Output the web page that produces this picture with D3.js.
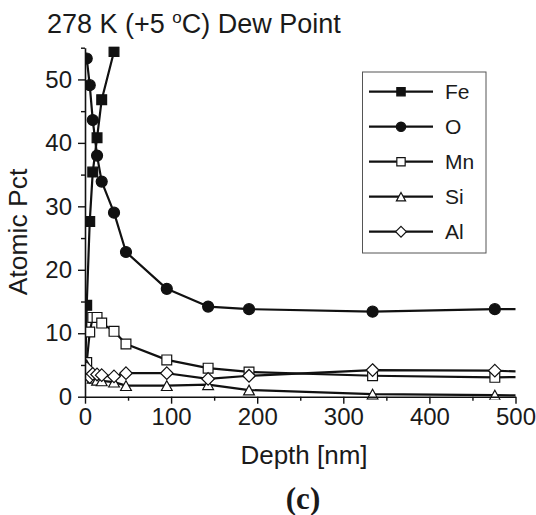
<!DOCTYPE html>
<html>
<head>
<meta charset="utf-8">
<script src="https://cdn.jsdelivr.net/npm/d3@7"></script>
<style>
  html, body { margin: 0; padding: 0; background: #fff; }
  svg { display: block; }
  text { font-family: "Liberation Sans", Arial, Helvetica, sans-serif; fill: #1a1a1a; }
  text.panel { font-family: "Liberation Serif", "Times New Roman", serif; font-weight: bold; }
</style>
</head>
<body>
<svg id="chart" width="536" height="515"></svg>
<script>
// Sputter depth (nm) for each measurement; the last one lies past the plotted range
const depths = [0.5, 2, 5.5, 9, 14, 19.4, 33.7, 47.6, 95, 143, 190.5, 334, 476, 620];

// Atomic percentage of each element at the depths above (null = not shown)
const feValues = [5.4, 14.4, 27.6, 35.4, 40.8, 46.8, 54.4, null, null, null, null, null, null, null];
const oValues  = [null, 53.3, 49.1, 43.6, 38.0, 33.9, 29.0, 22.8, 17.0, 14.2, 13.8, 13.4, 13.8, 13.8];
const mnValues = [null, 5.4, 10.2, 12.5, 12.5, 11.6, 10.3, 8.3, 5.8, 4.5, 3.9, 3.3, 3.05, 3.3];
const siValues = [null, 5.0, 3.6, 2.9, 2.6, 2.5, 2.3, 1.75, 1.75, 1.9, 1.05, 0.4, 0.25, 0];
const alValues = [null, 4.5, 3.1, 3.6, 3.5, 3.4, 3.2, 3.7, 3.7, 2.8, 3.3, 4.2, 4.1, 3.4];

const seriesNames = ["Fe", "O", "Mn", "Si", "Al"];
const seriesValues = [feValues, oValues, mnValues, siValues, alValues];
const markerShapes = ["square", "circle", "square", "triangle", "diamond"];
const markerFilled = [true, true, false, false, false];

const xTicks = [0, 100, 200, 300, 400, 500];
const xMinorTicks = [50, 150, 250, 350, 450];
const yTicks = [0, 10, 20, 30, 40, 50];
const yMinorTicks = [5, 15, 25, 35, 45, 55];

const titleMain = "278 K (+5 ";
const titleSup = "o";
const titleEnd = "C) Dew Point";
const xLabel = "Depth [nm]";
const yLabel = "Atomic Pct";
const panelLabel = "(c)";

const svg = d3.select("#chart");
const plot = { left: 85, right: 515.5, top: 47.7, bottom: 396.7 };

const x = d3.scaleLinear().domain([0, 500]).range([plot.left, plot.right]);
const y = d3.scaleLinear().domain([0, 55]).range([plot.bottom, plot.top]);

// Marker path generator, centred on the bounding box
function markerPath(shape, s) {
  const h = s / 2;
  if (shape === "square") return `M${-h},${-h}H${h}V${h}H${-h}Z`;
  if (shape === "circle") return `M${h},0A${h},${h} 0 1,1 ${-h},0A${h},${h} 0 1,1 ${h},0Z`;
  if (shape === "triangle") return `M0,${-h}L${h * 1.1},${h}L${-h * 1.1},${h}Z`;
  if (shape === "diamond") return `M0,${-h * 1.2}L${h * 1.2},0L0,${h * 1.2}L${-h * 1.2},0Z`;
}
const markerSize = { square: 9.8, circle: 11, triangle: 9.8, diamond: 10.5 };

// Clip region: the plotting frame, with a little room below the baseline
svg.append("defs").append("clipPath").attr("id", "plotClip")
  .append("rect")
  .attr("x", plot.left).attr("y", plot.top - 1)
  .attr("width", plot.right - plot.left).attr("height", plot.bottom - plot.top + 4);

const dataLayer = svg.append("g").attr("clip-path", "url(#plotClip)");

const line = d3.line()
  .defined(d => d.v !== null)
  .x(d => x(d.d))
  .y(d => y(d.v));

seriesValues.forEach((vals, i) => {
  const pts = depths.map((d, j) => ({ d, v: vals[j] }));
  const g = dataLayer.append("g");
  g.append("path")
    .datum(pts)
    .attr("d", line)
    .attr("fill", "none")
    .attr("stroke", "#111")
    .attr("stroke-width", 2.2)
    .attr("stroke-linejoin", "round");
  const shape = markerShapes[i];
  g.selectAll("path.mk")
    .data(pts.filter(p => p.v !== null && p.d <= 500))
    .join("path")
    .attr("class", "mk")
    .attr("d", markerPath(shape, markerSize[shape]))
    .attr("transform", p => `translate(${x(p.d)},${y(p.v)})`)
    .attr("fill", markerFilled[i] ? "#111" : "#fff")
    .attr("stroke", "#111")
    .attr("stroke-width", 1.2);
});

// Axes
function styleAxis(g) {
  g.select(".domain").attr("stroke", "#111").attr("stroke-width", 1.6);
  g.selectAll(".tick line").attr("stroke", "#111").attr("stroke-width", 1.4);
  g.selectAll(".tick text").style("font-size", "24px").style("fill", "#1a1a1a");
}

const xAxis = svg.append("g").attr("transform", `translate(0,${plot.bottom})`)
  .call(d3.axisBottom(x).tickValues(xTicks).tickSize(7).tickSizeOuter(0).tickPadding(4));
styleAxis(xAxis);
const xMinor = svg.append("g").attr("transform", `translate(0,${plot.bottom})`)
  .call(d3.axisBottom(x).tickValues(xMinorTicks).tickSize(4).tickFormat(""));
xMinor.select(".domain").remove();
xMinor.selectAll(".tick line").attr("stroke", "#111").attr("stroke-width", 1.4);

const yAxis = svg.append("g").attr("transform", `translate(${plot.left},0)`)
  .call(d3.axisLeft(y).tickValues(yTicks).tickSize(7).tickSizeOuter(0).tickPadding(6));
styleAxis(yAxis);
const yMinor = svg.append("g").attr("transform", `translate(${plot.left},0)`)
  .call(d3.axisLeft(y).tickValues(yMinorTicks).tickSize(4).tickFormat(""));
yMinor.select(".domain").remove();
yMinor.selectAll(".tick line").attr("stroke", "#111").attr("stroke-width", 1.4);

// Axis titles
svg.append("text")
  .attr("x", 304)
  .attr("y", 464)
  .attr("text-anchor", "middle")
  .style("font-size", "26px")
  .text(xLabel);

svg.append("text")
  .attr("transform", "translate(27,232) rotate(-90)")
  .attr("text-anchor", "middle")
  .style("font-size", "26.5px")
  .text(yLabel);

// Chart title with superscript degree mark
const title = svg.append("text").attr("x", 47).attr("y", 33).style("font-size", "27px");
title.append("tspan").text(titleMain);
title.append("tspan").style("font-size", "17px").attr("dy", -10).text(titleSup);
title.append("tspan").attr("dy", 10).text(titleEnd);

// Panel label
svg.append("text")
  .attr("class", "panel")
  .attr("x", 303).attr("y", 509)
  .attr("text-anchor", "middle")
  .style("font-size", "31px")
  .text(panelLabel);

// Legend
const legend = svg.append("g");
legend.append("rect")
  .attr("x", 362.5).attr("y", 72).attr("width", 123.5).attr("height", 181)
  .attr("fill", "#fff").attr("stroke", "#555").attr("stroke-width", 1);

seriesNames.forEach((name, i) => {
  const cy = 91.7 + i * 35;
  const row = legend.append("g");
  row.append("line")
    .attr("x1", 369).attr("x2", 433).attr("y1", cy).attr("y2", cy)
    .attr("stroke", "#111").attr("stroke-width", 2.2);
  const shape = markerShapes[i];
  row.append("path")
    .attr("d", markerPath(shape, markerSize[shape] * 0.85))
    .attr("transform", `translate(401,${cy})`)
    .attr("fill", markerFilled[i] ? "#111" : "#fff")
    .attr("stroke", "#111").attr("stroke-width", 1.2);
  row.append("text")
    .attr("x", 445).attr("y", cy + 7.5)
    .style("font-size", "21px")
    .text(name);
});
</script>
</body>
</html>
